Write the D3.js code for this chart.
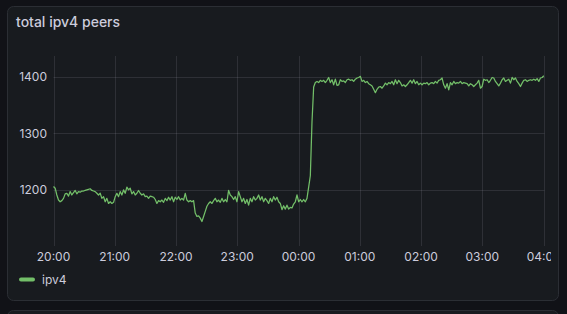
<!DOCTYPE html>
<html><head><meta charset="utf-8">
<script src="https://cdn.jsdelivr.net/npm/d3@7"></script>
<style>
html,body{margin:0;padding:0;background:#111217;overflow:hidden;}
svg{display:block;font-family:Inter, "Noto Sans", sans-serif;}
</style></head><body>
<svg id="chart" width="567" height="314"></svg>
<script>
const title = "total ipv4 peers";
const seriesName = "ipv4";
const startTime = "2024-01-01T20:00:00Z";
const endTime = "2024-01-02T04:00:00Z";
const stepSeconds = 98;
const yTicks = [1200, 1300, 1400];
const yDomain = [1106, 1437];
const tickLabels = ["20:00","21:00","22:00","23:00","00:00","01:00","02:00","03:00","04:00"];
const ipv4Values = [
1206,1203,1191,1182,1179,1181,1185,1193,1194,1189,
1197,1191,1195,1199,1193,1197,1196,1198,1198,1199,
1200,1201,1202,1199,1198,1197,1194,1191,1194,1185,
1188,1179,1185,1176,1179,1176,1178,1188,1194,1188,
1197,1191,1200,1194,1205,1200,1203,1193,1197,1191,
1194,1199,1194,1191,1193,1188,1189,1185,1189,1188,
1187,1183,1176,1181,1179,1182,1178,1185,1181,1187,
1182,1188,1179,1187,1183,1188,1182,1185,1182,1194,
1182,1179,1181,1179,1181,1159,1153,1154,1150,1144,
1153,1162,1171,1176,1179,1176,1181,1185,1179,1182,
1178,1185,1179,1183,1179,1199,1191,1188,1183,1188,
1179,1197,1188,1179,1185,1176,1183,1173,1185,1179,
1188,1182,1185,1191,1182,1188,1179,1185,1181,1176,
1185,1179,1188,1182,1187,1179,1176,1165,1172,1166,
1173,1166,1169,1168,1175,1179,1191,1179,1183,1179,
1183,1179,1185,
1205,1225,1320,1382,
1390,1392,1390,1394,1392,1394,1390,1394,1399,1390,
1395,1386,1396,1385,1386,1395,1392,1393,1390,1395,
1396,1394,1395,1392,1396,1398,1399,1401,1392,1394,
1390,1392,1388,1386,1384,1378,1372,1378,1382,1383,
1380,1384,1389,1386,1390,1388,1392,1386,1395,1388,
1394,1390,1384,1386,1383,1386,1390,1394,1389,1395,
1388,1392,1386,1389,1386,1389,1388,1390,1386,1389,
1390,1388,1392,1389,1394,1395,1398,1386,1380,1388,
1377,1390,1386,1392,1388,1390,1389,1392,1388,1390,
1389,1388,1384,1388,1386,1383,1386,1389,1394,1380,
1383,1396,1394,1395,1390,1394,1399,1398,1392,1388,
1384,1389,1395,1398,1392,1394,1396,1389,1399,1395,
1398,1392,1388,1383,1389,1394,1395,1392,1394,1395,
1394,1396,1394,1397,1392,1398,1399,1402
];

const t0 = new Date(startTime), t1 = new Date(endTime);
const data = ipv4Values.map((v, i) => ({t: new Date(t0.getTime() + i * stepSeconds * 1000), v}));

const svg = d3.select("#chart");
const plot = {left: 53.5, right: 544.5, top: 56, bottom: 243};

// panels
svg.append("rect").attr("x", 7.5).attr("y", 6.5).attr("width", 551).attr("height", 294)
  .attr("rx", 6).attr("fill", "#181b1f").attr("stroke", "#2b2e34");
svg.append("rect").attr("x", 7.5).attr("y", 310.5).attr("width", 551).attr("height", 30)
  .attr("rx", 6).attr("fill", "#181b1f").attr("stroke", "#2b2e34");

svg.append("text").attr("x", 16).attr("y", 27).text(title)
  .attr("fill", "#ccccdc").attr("font-size", 14).attr("font-weight", 500);

const x = d3.scaleUtc().domain([t0, t1]).range([plot.left, 543.6]);
const y = d3.scaleLinear().domain(yDomain).range([plot.bottom, plot.top]);

const hourTicks = tickLabels.map((_, i) => new Date(t0.getTime() + i * 3600 * 1000));

const defs = svg.append("defs");
defs.append("clipPath").attr("id", "lblclip").append("rect")
  .attr("x", 0).attr("y", 0).attr("width", 551).attr("height", 314);
defs.append("clipPath").attr("id", "plotclip").append("rect")
  .attr("x", plot.left - 2).attr("y", plot.top).attr("width", plot.right - plot.left + 4).attr("height", plot.bottom - plot.top);

const gridColor = "rgba(204,204,220,0.12)";
// horizontal grid
svg.append("g").selectAll("line").data(yTicks).join("line")
  .attr("x1", plot.left).attr("x2", plot.right)
  .attr("y1", d => Math.round(y(d)) + 0.5).attr("y2", d => Math.round(y(d)) + 0.5)
  .attr("stroke", gridColor);
// vertical grid
svg.append("g").selectAll("line").data(hourTicks).join("line")
  .attr("x1", d => Math.round(x(d)) + 0.5).attr("x2", d => Math.round(x(d)) + 0.5)
  .attr("y1", plot.top).attr("y2", 246)
  .attr("stroke", gridColor);

// y labels
svg.append("g").selectAll("text").data(yTicks).join("text")
  .attr("x", 47).attr("y", d => y(d) + 4.5).attr("text-anchor", "end")
  .attr("fill", "#ccccdc").attr("font-size", 12).text(d => d);

// x labels
svg.append("g").attr("clip-path", "url(#lblclip)").selectAll("text").data(hourTicks).join("text")
  .attr("x", d => x(d)).attr("y", 261).attr("text-anchor", "middle")
  .attr("fill", "#ccccdc").attr("font-size", 12).text((d, i) => tickLabels[i]);

// series
const line = d3.line().x(d => x(d.t)).y(d => y(d.v));
svg.append("path").datum(data).attr("clip-path", "url(#plotclip)")
  .attr("d", line).attr("fill", "none").attr("stroke", "#73bf69").attr("stroke-width", 1.25)
  .attr("stroke-linejoin", "round");

// legend
svg.append("line").attr("x1", 21).attr("x2", 33).attr("y1", 279.5).attr("y2", 279.5)
  .attr("stroke", "#73bf69").attr("stroke-width", 4).attr("stroke-linecap", "round");
svg.append("text").attr("x", 42).attr("y", 284).attr("fill", "#ccccdc").attr("font-size", 12).text(seriesName);
</script>
</body></html>
